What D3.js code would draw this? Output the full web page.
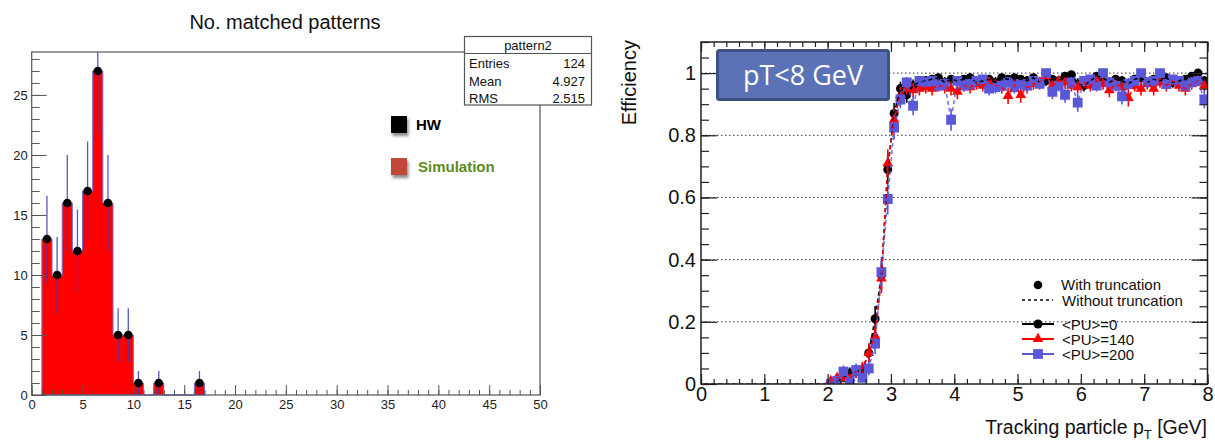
<!DOCTYPE html>
<html>
<head>
<meta charset="utf-8">
<script src="https://cdn.jsdelivr.net/npm/d3@7"></script>
<style>
  body { margin: 0; background: #fff; }
  svg { display: block; font-family: "Liberation Sans", Arial, Helvetica, sans-serif; }
</style>
</head>
<body>
<svg id="chart" width="1215" height="442"></svg>
<script>
// ---- left panel: number of matched patterns (histogram) ----
const patternBinLow = [1, 2, 3, 4, 5, 6, 7, 8, 9, 10, 11, 12, 13, 14, 15, 16];
const patternCounts = [13, 10, 16, 12, 17, 27, 16, 5, 5, 1, 0, 1, 0, 0, 0, 1];
const patternXTicks = [0, 5, 10, 15, 20, 25, 30, 35, 40, 45, 50];
const patternYTicks = [0, 5, 10, 15, 20, 25];
const patternStats = [["Entries", "124"], ["Mean", "4.927"], ["RMS", "2.515"]];
const patternLegend = [
  { label: "HW", box: "#000000", text: "#000000" },
  { label: "Simulation", box: "#c2473b", text: "#5e8c1c" }
];

// ---- right panel: efficiency vs tracking particle pT ----
const ptBinCenters = [
  0.05, 0.15, 0.25, 0.35, 0.45, 0.55, 0.65, 0.75, 0.85, 0.95,
  1.05, 1.15, 1.25, 1.35, 1.45, 1.55, 1.65, 1.75, 1.85, 1.95,
  2.05, 2.15, 2.25, 2.35, 2.45, 2.55, 2.65, 2.75, 2.85, 2.95,
  3.05, 3.15, 3.25, 3.35, 3.45, 3.55, 3.65, 3.75, 3.85, 3.95,
  4.05, 4.15, 4.25, 4.35, 4.45, 4.55, 4.65, 4.75, 4.85, 4.95,
  5.05, 5.15, 5.25, 5.35, 5.45, 5.55, 5.65, 5.75, 5.85, 5.95,
  6.05, 6.15, 6.25, 6.35, 6.45, 6.55, 6.65, 6.75, 6.85, 6.95,
  7.05, 7.15, 7.25, 7.35, 7.45, 7.55, 7.65, 7.75, 7.85, 7.95
];
const effPU0 = [
  0, 0, 0, 0, 0, 0, 0, 0, 0, 0,
  0, 0, 0, 0, 0, 0, 0, 0, 0, 0,
  0.0, 0.01, 0.02, 0.035, 0.04, 0.045, 0.10, 0.21, 0.35, 0.69,
  0.87, 0.95, 0.93, 0.96, 0.97, 0.975, 0.98, 0.985, 0.97, 0.98,
  0.975, 0.98, 0.985, 0.97, 0.975, 0.98, 0.97, 0.985, 0.98, 0.985,
  0.98, 0.975, 0.985, 0.97, 0.975, 0.98, 0.975, 0.99, 0.995, 0.965,
  0.96, 0.975, 0.99, 0.985, 0.97, 0.98, 0.975, 0.965, 0.98, 0.985,
  0.97, 0.98, 0.975, 0.985, 0.97, 0.975, 0.98, 0.99, 1.0, 0.975
];
const effPU140 = [
  0, 0, 0, 0, 0, 0, 0, 0, 0, 0,
  0, 0, 0, 0, 0, 0, 0, 0, 0, 0,
  0.01, 0.02, 0.02, 0.02, 0.04, 0.05, 0.10, 0.155, 0.34, 0.71,
  0.85, 0.93, 0.95, 0.945, 0.95, 0.955, 0.95, 0.96, 0.955, 0.95,
  0.94, 0.96, 0.955, 0.965, 0.96, 0.97, 0.96, 0.955, 0.927, 0.96,
  0.93, 0.955, 0.965, 0.97, 0.99, 0.96, 0.975, 0.97, 0.96, 0.955,
  0.97, 0.96, 0.975, 0.965, 0.945, 0.965, 0.955, 0.92, 0.96, 0.95,
  0.965, 0.95, 0.97, 0.96, 0.975, 0.96, 0.95, 0.965, 0.975, 0.96
];
const effPU200 = [
  0, 0, 0, 0, 0, 0, 0, 0, 0, 0,
  0, 0, 0, 0, 0, 0, 0, 0, 0, 0,
  0.0, 0.01, 0.04, 0.01, 0.045, 0.02, 0.05, 0.13, 0.36, 0.595,
  0.825, 0.915, 0.97, 0.895, 0.975, 0.97, 0.975, 0.96, 0.965, 0.85,
  0.975, 0.96, 0.965, 0.975, 0.98, 0.95, 0.955, 0.96, 0.97, 0.955,
  0.965, 0.96, 0.975, 0.965, 1.0, 0.94, 0.96, 0.93, 0.97, 0.905,
  0.975, 0.98, 0.96, 1.0, 0.97, 0.96, 0.925, 0.965, 0.975, 1.0,
  0.97, 0.975, 1.0, 0.965, 0.98, 0.975, 0.96, 0.97, 0.975, 0.915
];
const effYTicks = [0, 0.2, 0.4, 0.6, 0.8, 1];
const effXTicks = [0, 1, 2, 3, 4, 5, 6, 7, 8];
const effSeries = [
  { label: "<PU>=0", values: effPU0, color: "#000000", shape: d3.symbolCircle, size: 64 },
  { label: "<PU>=140", values: effPU140, color: "#ff0000", shape: d3.symbolTriangle, size: 50 },
  { label: "<PU>=200", values: effPU200, color: "#5a57d8", shape: d3.symbolSquare, size: 96 }
];
const effEventsPerBin = 100; // used for the binomial error bars

const svg = d3.select("#chart");

svg.append("defs").append("filter")
    .attr("id", "shadow").attr("x", "-50%").attr("y", "-50%").attr("width", "200%").attr("height", "200%")
  .append("feDropShadow")
    .attr("dx", 1.5).attr("dy", 3).attr("stdDeviation", 1.8)
    .attr("flood-color", "#000").attr("flood-opacity", 0.45);

// ================= left panel =================
const xL = d3.scaleLinear().domain([0, 50]).range([31.7, 540]);
const yL = d3.scaleLinear().domain([0, 28.58]).range([395, 52]);
const left = svg.append("g");

left.append("text")
    .attr("x", 285).attr("y", 29)
    .attr("text-anchor", "middle")
    .style("font-size", "20px").attr("fill", "#111")
    .text("No. matched patterns");

left.append("clipPath").attr("id", "clipL")
  .append("rect").attr("x", xL(0)).attr("y", yL.range()[1])
    .attr("width", xL(50) - xL(0)).attr("height", yL(0) - yL.range()[1]);

const histPts = patternBinLow.map((lo, i) => [lo, patternCounts[i]]);
histPts.push([patternBinLow[patternBinLow.length - 1] + 1, patternCounts[patternCounts.length - 1]]);

left.append("path")
    .datum(histPts)
    .attr("d", d3.area().curve(d3.curveStepAfter)
      .x(d => xL(d[0])).y0(yL(0)).y1(d => yL(d[1])))
    .attr("fill", "#ff0000")
    .attr("stroke", "#6f6fd2").attr("stroke-width", 1);

const histMarks = left.append("g").attr("clip-path", "url(#clipL)");
const filled = patternBinLow.map((lo, i) => ({ x: lo + 0.5, n: patternCounts[i] })).filter(d => d.n > 0);

histMarks.selectAll("line.err").data(filled).join("line")
    .attr("class", "err")
    .attr("x1", d => xL(d.x)).attr("x2", d => xL(d.x))
    .attr("y1", d => yL(d.n - Math.sqrt(d.n))).attr("y2", d => yL(d.n + Math.sqrt(d.n)))
    .attr("stroke", "#3a3ab8").attr("stroke-opacity", 0.85).attr("stroke-width", 1.3);

histMarks.selectAll("circle").data(filled).join("circle")
    .attr("cx", d => xL(d.x)).attr("cy", d => yL(d.n)).attr("r", 4.3)
    .attr("fill", "#000");

// frame
left.append("rect")
    .attr("x", xL(0)).attr("y", yL.range()[1])
    .attr("width", xL(50) - xL(0)).attr("height", yL(0) - yL.range()[1])
    .attr("fill", "none").attr("stroke", "#555").attr("stroke-width", 1.2);

// x axis
const xAxL = left.append("g").attr("transform", `translate(0,${yL(0)})`);
xAxL.call(d3.axisBottom(xL).tickValues(d3.range(0, 51, 1)).tickSize(-5).tickFormat(""));
xAxL.call(g => g.append("g").call(d3.axisBottom(xL).tickValues(patternXTicks).tickSize(-10).tickPadding(5)));
xAxL.selectAll("path.domain").remove();
xAxL.selectAll("line").attr("stroke", "#555");
xAxL.selectAll("text").style("font-size", "13px").attr("fill", "#222")
    .style("font-family", "\"Liberation Sans\", Arial, sans-serif");

// y axis
const yAxL = left.append("g").attr("transform", `translate(${xL(0)},0)`);
yAxL.call(d3.axisLeft(yL).tickValues(d3.range(0, 29, 1)).tickSize(-8).tickFormat(""));
yAxL.call(g => g.append("g").call(d3.axisLeft(yL).tickValues(patternYTicks).tickSize(-15).tickPadding(4)));
yAxL.selectAll("path.domain").remove();
yAxL.selectAll("line").attr("stroke", "#555");
yAxL.selectAll("text").style("font-size", "13px").attr("fill", "#222")
    .style("font-family", "\"Liberation Sans\", Arial, sans-serif");

// stats box
const stats = left.append("g");
stats.append("rect").attr("x", 464.5).attr("y", 36.5).attr("width", 127).attr("height", 68.5)
    .attr("fill", "#fff").attr("stroke", "#555").attr("stroke-width", 1.2);
stats.append("line").attr("x1", 464.5).attr("x2", 591.5).attr("y1", 53.5).attr("y2", 53.5)
    .attr("stroke", "#555").attr("stroke-width", 1);
stats.append("text").attr("x", 528).attr("y", 50).attr("text-anchor", "middle")
    .style("font-size", "13px").attr("fill", "#111").text("pattern2");
patternStats.forEach((row, i) => {
  const yy = 68 + i * 17.5;
  stats.append("text").attr("x", 469).attr("y", yy).style("font-size", "13px").attr("fill", "#111").text(row[0]);
  stats.append("text").attr("x", 585).attr("y", yy).attr("text-anchor", "end")
      .style("font-size", "13px").attr("fill", "#111").text(row[1]);
});

// legend
patternLegend.forEach((d, i) => {
  const yy = 116 + i * 42;
  left.append("rect").attr("x", 391).attr("y", yy).attr("width", 16).attr("height", 17)
      .attr("fill", d.box).attr("filter", "url(#shadow)");
  left.append("text").attr("x", 416 + i * 2).attr("y", yy + 14)
      .style("font-size", "15px").style("font-weight", "bold").attr("fill", d.text).text(d.label);
});

// ================= right panel =================
const xR = d3.scaleLinear().domain([0, 8]).range([701, 1207.5]);
const yR = d3.scaleLinear().domain([0, 1.1]).range([384, 42]);
const right = svg.append("g");

// dotted grid
right.selectAll("line.grid").data(effYTicks.filter(v => v > 0)).join("line")
    .attr("class", "grid")
    .attr("x1", xR(0)).attr("x2", xR(8))
    .attr("y1", d => yR(d)).attr("y2", d => yR(d))
    .attr("stroke", "#333").attr("stroke-width", 1).attr("stroke-dasharray", "1.5,2.5");

right.append("clipPath").attr("id", "clipR")
  .append("rect").attr("x", xR(0)).attr("y", yR(1.1))
    .attr("width", xR(8) - xR(0)).attr("height", yR(0) - yR(1.1));

const plot = right.append("g").attr("clip-path", "url(#clipR)");

effSeries.forEach(s => {
  const pts = ptBinCenters.map((x, i) => ({ x, e: s.values[i] })).filter(d => d.x > 2);
  const g = plot.append("g");
  g.selectAll("line").data(pts).join("line")
      .attr("x1", d => xR(d.x)).attr("x2", d => xR(d.x))
      .attr("y1", d => yR(Math.max(0, d.e - Math.sqrt(d.e * (1 - d.e) / effEventsPerBin))))
      .attr("y2", d => yR(Math.min(1, d.e + Math.sqrt(d.e * (1 - d.e) / effEventsPerBin))))
      .attr("stroke", s.color).attr("stroke-width", 1.6);
  g.selectAll("path").data(pts).join("path")
      .attr("transform", d => `translate(${xR(d.x)},${yR(d.e)})`)
      .attr("d", d3.symbol(s.shape, s.size))
      .attr("fill", s.color);
});

// "without truncation" dashed curves
effSeries.forEach(s => {
  plot.append("path")
      .datum(ptBinCenters.map((x, i) => [x, s.values[i]]))
      .attr("d", d3.line().x(d => xR(d[0])).y(d => yR(d[1])))
      .attr("fill", "none")
      .attr("stroke", s.color).attr("stroke-opacity", s.color === "#5a57d8" ? 0.8 : 1)
      .attr("stroke-width", 1.6).attr("stroke-dasharray", "4,3");
});

// frame
right.append("rect")
    .attr("x", xR(0)).attr("y", yR(1.1))
    .attr("width", xR(8) - xR(0)).attr("height", yR(0) - yR(1.1))
    .attr("fill", "none").attr("stroke", "#222").attr("stroke-width", 1.5);

const minorX = d3.range(0, 8.01, 0.2);
const minorY = d3.range(0, 1.101, 0.05);

const axB = right.append("g").attr("transform", `translate(0,${yR(0)})`);
axB.call(d3.axisBottom(xR).tickValues(minorX).tickSize(-5).tickFormat(""));
axB.call(g => g.append("g").call(d3.axisBottom(xR).tickValues(effXTicks).tickSize(-10).tickPadding(3)));
const axT = right.append("g").attr("transform", `translate(0,${yR(1.1)})`);
axT.call(d3.axisTop(xR).tickValues(minorX).tickSize(-5).tickFormat(""));
axT.call(g => g.append("g").call(d3.axisTop(xR).tickValues(effXTicks).tickSize(-10).tickFormat("")));
const axL = right.append("g").attr("transform", `translate(${xR(0)},0)`);
axL.call(d3.axisLeft(yR).tickValues(minorY).tickSize(-8).tickFormat(""));
axL.call(g => g.append("g").call(d3.axisLeft(yR).tickValues(effYTicks).tickSize(-16).tickPadding(5).tickFormat(d3.format("~g"))));
const axR = right.append("g").attr("transform", `translate(${xR(8)},0)`);
axR.call(d3.axisRight(yR).tickValues(minorY).tickSize(-8).tickFormat(""));
axR.call(g => g.append("g").call(d3.axisRight(yR).tickValues(effYTicks).tickSize(-16).tickFormat("")));

right.selectAll(".domain").remove();
right.selectAll(".tick line").attr("stroke", "#222").attr("stroke-width", 1.2);
right.selectAll(".tick text").style("font-size", "20px").attr("fill", "#111")
    .style("font-family", "\"Liberation Sans\", Arial, sans-serif");

// axis titles
right.append("text")
    .attr("transform", "translate(636,40) rotate(-90)")
    .attr("text-anchor", "end")
    .style("font-size", "20px").attr("fill", "#111")
    .text("Efficiency");

const xTitle = right.append("text")
    .attr("x", 1207).attr("y", 434).attr("text-anchor", "end")
    .style("font-size", "19.5px").attr("fill", "#111");
xTitle.append("tspan").text("Tracking particle p");
xTitle.append("tspan").attr("dy", 5).style("font-size", "13px").text("T");
xTitle.append("tspan").attr("dy", -5).text(" [GeV]");

// pT<8 GeV label box
right.append("rect")
    .attr("x", 717.5).attr("y", 50.5).attr("width", 171).attr("height", 49)
    .attr("rx", 2)
    .attr("fill", "#5b72b6").attr("stroke", "#3e5183").attr("stroke-width", 3);
right.append("text")
    .attr("x", 803).attr("y", 85).attr("text-anchor", "middle")
    .style("font-family", "\"Open Sans\", \"Noto Sans\", sans-serif")
    .style("font-size", "27px").attr("fill", "#fff")
    .text("pT<8 GeV");

// legend
const leg = right.append("g").style("font-size", "15px");
leg.append("path").attr("transform", "translate(1038,285)")
    .attr("d", d3.symbol(d3.symbolCircle, 58)).attr("fill", "#000");
leg.append("text").attr("x", 1061).attr("y", 290).attr("fill", "#111").text("With truncation");
leg.append("line").attr("x1", 1022).attr("x2", 1053).attr("y1", 300).attr("y2", 300)
    .attr("stroke", "#000").attr("stroke-width", 1.5).attr("stroke-dasharray", "3,3");
leg.append("text").attr("x", 1062).attr("y", 305.5).attr("fill", "#111").text("Without truncation");

effSeries.forEach((s, i) => {
  const yy = 324 + i * 15;
  leg.append("line").attr("x1", 1022).attr("x2", 1054).attr("y1", yy).attr("y2", yy)
      .attr("stroke", s.color).attr("stroke-width", 2);
  leg.append("path").attr("transform", `translate(1038,${yy})`)
      .attr("d", d3.symbol(s.shape, s.size)).attr("fill", s.color);
  leg.append("text").attr("x", 1062).attr("y", yy + 5.5).attr("fill", "#111").text(s.label);
});
</script>
</body>
</html>
